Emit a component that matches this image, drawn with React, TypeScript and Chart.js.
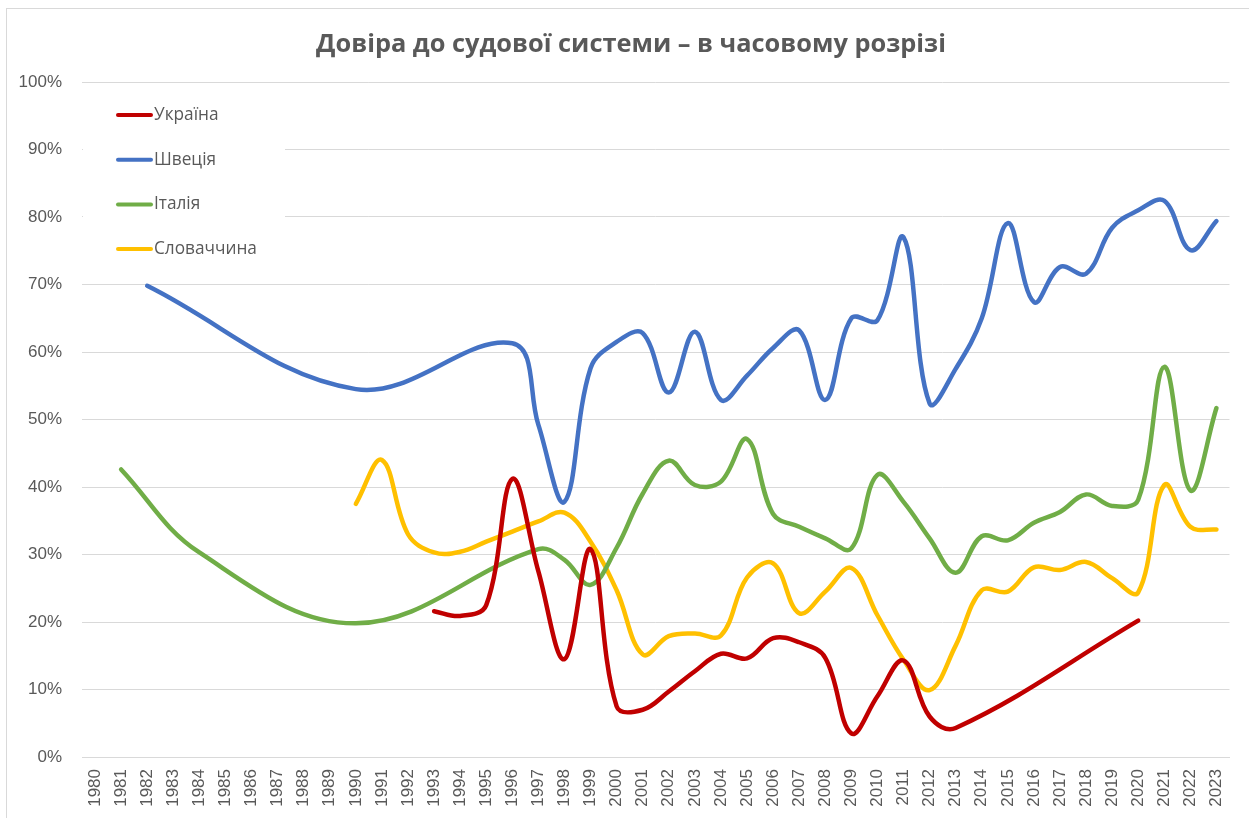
import React, { useEffect, useRef } from "react";
import { Chart, registerables } from "chart.js";

Chart.register(...registerables);

const N = null;

const YEARS = [
  "1980", "1981", "1982", "1983", "1984", "1985", "1986", "1987", "1988", "1989",
  "1990", "1991", "1992", "1993", "1994", "1995", "1996", "1997", "1998", "1999",
  "2000", "2001", "2002", "2003", "2004", "2005", "2006", "2007", "2008", "2009",
  "2010", "2011", "2012", "2013", "2014", "2015", "2016", "2017", "2018", "2019",
  "2020", "2021", "2022", "2023",
];

const Y_TICKS = [0, 10, 20, 30, 40, 50, 60, 70, 80, 90, 100];

const SERIES_NAMES = ["Україна", "Швеція", "Італія", "Словаччина"];
const SERIES_COLORS = ["#C00000", "#4472C4", "#70AD47", "#FFC000"];

const UKRAINE = [
  N, N, N, N, N, N, N, N, N, N,
  N, N, N, 21.6, 20.9, 22.5, 41.2, 27.5, 14.5, 30.8,
  7.5, 7.0, 9.7, 12.7, 15.3, 14.6, 17.6, 17.0, 14.7, 3.5,
  9.0, 14.3, 6.0, 4.3, N, N, N, N, N, N,
  20.2, N, N, N,
];

const SWEDEN = [
  N, N, 69.8, N, N, N, N, N, N, N,
  54.5, N, N, N, N, N, 61.3, 49.2, 37.8, 57.6,
  61.5, 62.8, 54.0, 63.0, 52.9, 56.5, 60.6, 63.2, 52.9, 65.0,
  64.7, 77.0, 52.4, 57.5, 65.0, 79.1, 67.4, 72.6, 71.6, 78.4,
  81.0, 82.4, 75.1, 79.4,
];

const ITALY = [
  N, 42.6, N, N, 30.3, N, N, N, N, N,
  19.8, N, N, N, N, N, N, 30.8, 29.2, 25.5,
  31.0, 39.0, 43.9, 40.3, 40.8, 47.1, 36.0, 34.1, 32.4, 30.9,
  41.8, 37.8, 32.4, 27.3, 32.7, 32.1, 34.7, 36.3, 38.9, 37.2,
  38.1, 57.8, 39.5, 51.7,
];

const SLOVAKIA = [
  N, N, N, N, N, N, N, N, N, N,
  37.5, 44.0, 33.0, 30.3, 30.4, 31.9, 33.4, 34.9, 36.2, 31.9,
  24.7, 15.2, 17.9, 18.3, 18.0, 26.6, 28.7, 21.3, 24.5, 28.0,
  21.0, 14.4, 9.9, 16.5, 24.7, 24.5, 28.1, 27.7, 28.9, 26.5,
  24.4, 40.3, 34.1, 33.7,
];

const TITLE = "Довіра до судової системи – в часовому розрізі";

const TEXT_COLOR = "#595959";
const GRID_COLOR = "#D9D9D9";

function fitFont(ctx: CanvasRenderingContext2D, text: string, weight: string, family: string, targetWidth: number) {
  ctx.font = `${weight} 100px ${family}`;
  const w = ctx.measureText(text).width;
  return (100 * targetWidth) / w;
}

const titlePlugin = {
  id: "customTitle",
  afterDraw(chart: any) {
    const ctx = chart.ctx as CanvasRenderingContext2D;
    ctx.save();
    const size = fitFont(ctx, TITLE, "bold", "'Open Sans'", 630);
    ctx.font = `bold ${size}px 'Open Sans'`;
    ctx.fillStyle = TEXT_COLOR;
    ctx.textAlign = "center";
    ctx.textBaseline = "alphabetic";
    ctx.fillText(TITLE, 631, 52);
    ctx.restore();
  },
};

const legendPlugin = {
  id: "insideLegend",
  beforeDatasetsDraw(chart: any) {
    const ctx = chart.ctx as CanvasRenderingContext2D;
    ctx.save();
    ctx.fillStyle = "#ffffff";
    ctx.fillRect(83, 90, 202, 184);
    const size = fitFont(ctx, "Словаччина", "normal", "'Open Sans'", 103);
    ctx.font = `${size}px 'Open Sans'`;
    ctx.textAlign = "left";
    ctx.textBaseline = "middle";
    chart.data.datasets.forEach((ds: any, i: number) => {
      const y = 115 + i * 44.7;
      ctx.strokeStyle = ds.borderColor;
      ctx.lineWidth = 4;
      ctx.lineCap = "round";
      ctx.beginPath();
      ctx.moveTo(118, y);
      ctx.lineTo(151, y);
      ctx.stroke();
      ctx.fillStyle = TEXT_COLOR;
      ctx.fillText(ds.label, 154, y);
    });
    ctx.restore();
  },
};

export default function App() {
  const canvasRef = useRef<HTMLCanvasElement | null>(null);

  useEffect(() => {
    const canvas = canvasRef.current;
    if (!canvas) return;
    const seriesData = [UKRAINE, SWEDEN, ITALY, SLOVAKIA];
    const chart = new Chart(canvas, {
      type: "line",
      data: {
        labels: YEARS,
        datasets: seriesData.map((d, i) => ({
          label: SERIES_NAMES[i],
          data: d,
          borderColor: SERIES_COLORS[i],
          backgroundColor: SERIES_COLORS[i],
          borderWidth: 4.5,
          pointRadius: 0,
          pointHoverRadius: 0,
          tension: 0.38,
          spanGaps: true,
          borderCapStyle: "round",
          borderJoinStyle: "round",
          fill: false,
        })),
      },
      options: {
        responsive: false,
        animation: false,
        devicePixelRatio: 1,
        layout: { padding: { top: 82, left: 0, right: 13, bottom: 0 } },
        plugins: {
          legend: { display: false },
          title: { display: false },
          tooltip: { enabled: false },
        },
        scales: {
          x: {
            type: "category",
            offset: true,
            grid: { display: false, drawTicks: false },
            border: { display: true, color: GRID_COLOR, width: 1 },
            ticks: {
              minRotation: 90,
              maxRotation: 90,
              autoSkip: false,
              padding: 12,
              color: TEXT_COLOR,
              font: { family: "'Liberation Sans', Arial, sans-serif", size: 17 },
            },
            afterFit(scale: any) {
              scale.height = 61;
            },
          },
          y: {
            min: 0,
            max: 100,
            afterBuildTicks(scale: any) {
              scale.ticks = Y_TICKS.map((v) => ({ value: v }));
            },
            grid: { color: GRID_COLOR, lineWidth: 1, drawTicks: false },
            border: { display: false },
            ticks: {
              padding: 20,
              color: TEXT_COLOR,
              font: { family: "'Liberation Sans', Arial, sans-serif", size: 17 },
              callback: (v: any) => `${v}%`,
            },
            afterFit(scale: any) {
              scale.width = 82;
            },
          },
        },
      },
      plugins: [legendPlugin, titlePlugin],
    });
    return () => chart.destroy();
  }, []);

  return (
    <div
      style={{
        position: "fixed",
        left: 0,
        top: 0,
        width: 1249,
        height: 818,
        overflow: "hidden",
        background: "#ffffff",
      }}
    >
      <div
        style={{
          position: "absolute",
          left: 6,
          top: 8,
          width: 1260,
          height: 830,
          border: "1px solid #D9D9D9",
          boxSizing: "border-box",
        }}
      />
      <canvas
        ref={canvasRef}
        width={1249}
        height={818}
        style={{ position: "absolute", left: 0, top: 0, width: 1249, height: 818 }}
      />
    </div>
  );
}
